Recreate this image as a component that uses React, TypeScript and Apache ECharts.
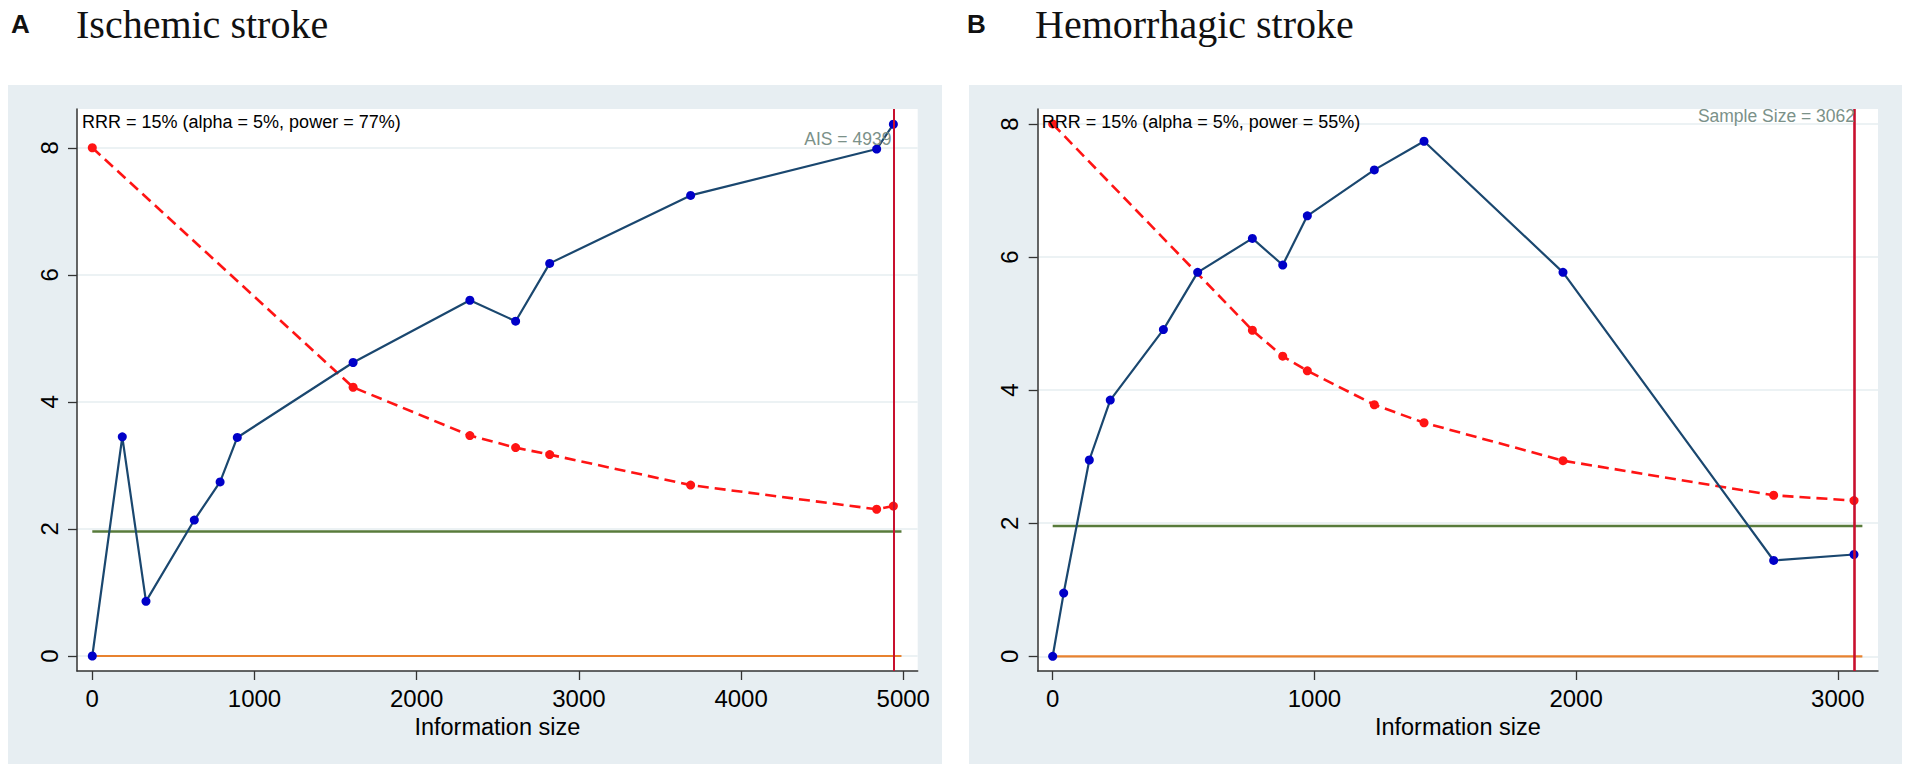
import React, { useEffect, useRef } from "react";
import * as echarts from "echarts";

// ---------- data ----------
const xTicksA = [0, 1000, 2000, 3000, 4000, 5000];
const xTicksB = [0, 1000, 2000, 3000];
const yTicks = [0, 2, 4, 6, 8];

// Panel A: Ischemic stroke
const zCurveA_x = [0, 185, 331, 629, 788, 894, 1608, 2328, 2610, 2820, 3689, 4836, 4939];
const zCurveA_y = [0, 3.45, 0.86, 2.14, 2.74, 3.44, 4.62, 5.6, 5.27, 6.18, 7.25, 7.98, 8.37];
const boundA_x = [0, 1608, 2328, 2610, 2820, 3689, 4836, 4939];
const boundA_y = [8, 4.23, 3.47, 3.28, 3.17, 2.69, 2.31, 2.36];
const AIS_A = 4939;
const refEndA = 4989;

// Panel B: Hemorrhagic stroke
const zCurveB_x = [0, 42, 140, 220, 423, 554, 763, 879, 973, 1229, 1419, 1950, 2755, 3062];
const zCurveB_y = [0, 0.95, 2.95, 3.85, 4.91, 5.77, 6.28, 5.88, 6.62, 7.31, 7.74, 5.77, 1.44, 1.53];
const boundB_x = [0, 763, 879, 973, 1229, 1419, 1950, 2755, 3062];
const boundB_y = [8, 4.9, 4.51, 4.29, 3.78, 3.51, 2.94, 2.42, 2.34];
const SS_B = 3062;
const refEndB = 3094;

const conventionalZ = 1.96;
const nullZ = 0;

const zip = (xs: number[], ys: number[]) => xs.map((x, i) => [x, ys[i]]);

const SANS = "'Liberation Sans', Arial, sans-serif";
const SERIF = "'Liberation Serif', 'Times New Roman', serif";

const BG = "#e7eef2";
const GRIDLINE = "#e6eef1";
const NAVY = "#1a476f";
const BLUE_MK = "#0000c8";
const RED = "#ff1414";
const GREEN = "#587b3b";
const ORANGE = "#e8822f";
const CRAN = "#c8102e";
const LABEL_GRAY = "#7b9189";

const plain = (v: number) => String(v);

function xAxisCfg(gridIndex: number, min: number, max: number, ticks: number[]) {
  return {
    type: "value",
    gridIndex,
    min,
    max,
    name: "Information size",
    nameLocation: "middle",
    nameGap: 40,
    nameTextStyle: { fontFamily: SANS, fontSize: 23.5, color: "#000" },
    axisLine: { show: true, onZero: false, lineStyle: { color: "#333", width: 1.5 } },
    axisTick: { show: true, length: 9, customValues: ticks, lineStyle: { color: "#333", width: 1.3 } },
    axisLabel: { customValues: ticks, formatter: plain, fontFamily: SANS, fontSize: 24, color: "#000", margin: 15 },
    splitLine: { show: false },
  };
}

function yAxisCfg(gridIndex: number, min: number, max: number) {
  return {
    type: "value",
    gridIndex,
    min,
    max,
    axisLine: { show: true, onZero: false, lineStyle: { color: "#333", width: 1.5 } },
    axisTick: { show: true, length: 9, customValues: yTicks, lineStyle: { color: "#333", width: 1.3 } },
    axisLabel: {
      customValues: yTicks,
      formatter: plain,
      rotate: 90,
      fontFamily: SANS,
      fontSize: 24,
      color: "#000",
      margin: 16,
    },
    splitLine: { show: true, lineStyle: { color: GRIDLINE, width: 1.5 } },
  };
}

function panelSeries(
  idx: number,
  zx: number[],
  zy: number[],
  bx: number[],
  by: number[],
  refEnd: number,
  vline: number,
  vWidth: number
) {
  return [
    {
      type: "line",
      xAxisIndex: idx,
      yAxisIndex: idx,
      data: [
        [0, nullZ],
        [refEnd, nullZ],
      ],
      symbol: "none",
      lineStyle: { color: ORANGE, width: 2.2 },
      z: 2,
      markLine: {
        silent: true,
        symbol: "none",
        label: { show: false },
        lineStyle: { color: CRAN, width: vWidth, type: "solid" },
        data: [{ xAxis: vline }],
        z: 6,
      },
    },
    {
      type: "line",
      xAxisIndex: idx,
      yAxisIndex: idx,
      data: [
        [0, conventionalZ],
        [refEnd, conventionalZ],
      ],
      symbol: "none",
      lineStyle: { color: GREEN, width: 2.5 },
      z: 2,
    },
    {
      type: "line",
      xAxisIndex: idx,
      yAxisIndex: idx,
      data: zip(bx, by),
      symbol: "circle",
      symbolSize: 9,
      itemStyle: { color: RED },
      lineStyle: { color: RED, width: 2.6, type: [11, 6] },
      z: 3,
    },
    {
      type: "line",
      xAxisIndex: idx,
      yAxisIndex: idx,
      data: zip(zx, zy),
      symbol: "circle",
      symbolSize: 9,
      itemStyle: { color: BLUE_MK },
      lineStyle: { color: NAVY, width: 2.2 },
      z: 4,
    },
  ];
}

export default function App() {
  const ref = useRef<HTMLDivElement>(null);

  useEffect(() => {
    document.body.style.margin = "0";
    if (!ref.current) return;
    const chart = echarts.init(ref.current, undefined, { renderer: "svg" });

    const gridA = { left: 77, top: 109, width: 840.7, height: 562 };
    const gridB = { left: 1037.7, top: 109, width: 840.3, height: 562 };

    chart.setOption({
      animation: false,
      grid: [
        { ...gridA, show: true, backgroundColor: "#ffffff", borderWidth: 0, containLabel: false },
        { ...gridB, show: true, backgroundColor: "#ffffff", borderWidth: 0, containLabel: false },
      ],
      xAxis: [xAxisCfg(0, -94.3, 5089, xTicksA), xAxisCfg(1, -57.3, 3153.7, xTicksB)],
      yAxis: [yAxisCfg(0, -0.236, 8.61), yAxisCfg(1, -0.221, 8.225)],
      series: [
        ...panelSeries(0, zCurveA_x, zCurveA_y, boundA_x, boundA_y, refEndA, AIS_A, 2),
        ...panelSeries(1, zCurveB_x, zCurveB_y, boundB_x, boundB_y, refEndB, SS_B, 2.6),
      ],
    });

    const pxA = chart.convertToPixel({ xAxisIndex: 0 }, AIS_A) as number;
    const pxB = chart.convertToPixel({ xAxisIndex: 1 }, SS_B) as number;

    const letterStyle = { fontFamily: SANS, fontWeight: "bold", fontSize: 26, lineHeight: 30, fill: "#111", align: "left", verticalAlign: "middle" };
    const titleStyle = { fontFamily: SERIF, fontSize: 40, lineHeight: 44, fill: "#111", align: "left", verticalAlign: "middle" };

    chart.setOption({
      graphic: [
        { type: "rect", z: -10, shape: { x: 8, y: 85, width: 934, height: 679 }, style: { fill: BG } },
        { type: "rect", z: -10, shape: { x: 969, y: 85, width: 933, height: 679 }, style: { fill: BG } },
        { type: "text", z: 10, x: 11, y: 24, style: { ...letterStyle, text: "A" } },
        { type: "text", z: 10, x: 76, y: 24, style: { ...titleStyle, text: "Ischemic stroke" } },
        { type: "text", z: 10, x: 967, y: 24, style: { ...letterStyle, text: "B" } },
        { type: "text", z: 10, x: 1035, y: 24, style: { ...titleStyle, text: "Hemorrhagic stroke" } },
        {
          type: "text",
          z: 10,
          x: gridA.left + 5,
          y: 122,
          style: { text: "RRR = 15% (alpha = 5%, power = 77%)", fontFamily: SANS, fontSize: 18, fill: "#000", align: "left", verticalAlign: "middle" },
        },
        {
          type: "text",
          z: 10,
          x: gridB.left + 4,
          y: 122,
          style: { text: "RRR = 15% (alpha = 5%, power = 55%)", fontFamily: SANS, fontSize: 18, fill: "#000", align: "left", verticalAlign: "middle" },
        },
        {
          type: "text",
          z: 10,
          x: pxA - 2,
          y: 139,
          style: { text: "AIS = " + AIS_A, fontFamily: SANS, fontSize: 17.5, fill: LABEL_GRAY, align: "right", verticalAlign: "middle" },
        },
        {
          type: "text",
          z: 10,
          x: pxB + 1,
          y: 116,
          style: { text: "Sample Size = " + SS_B, fontFamily: SANS, fontSize: 17.5, fill: LABEL_GRAY, align: "right", verticalAlign: "middle" },
        },
      ],
    });

    return () => chart.dispose();
  }, []);

  return <div ref={ref} style={{ width: 1910, height: 772 }} />;
}
